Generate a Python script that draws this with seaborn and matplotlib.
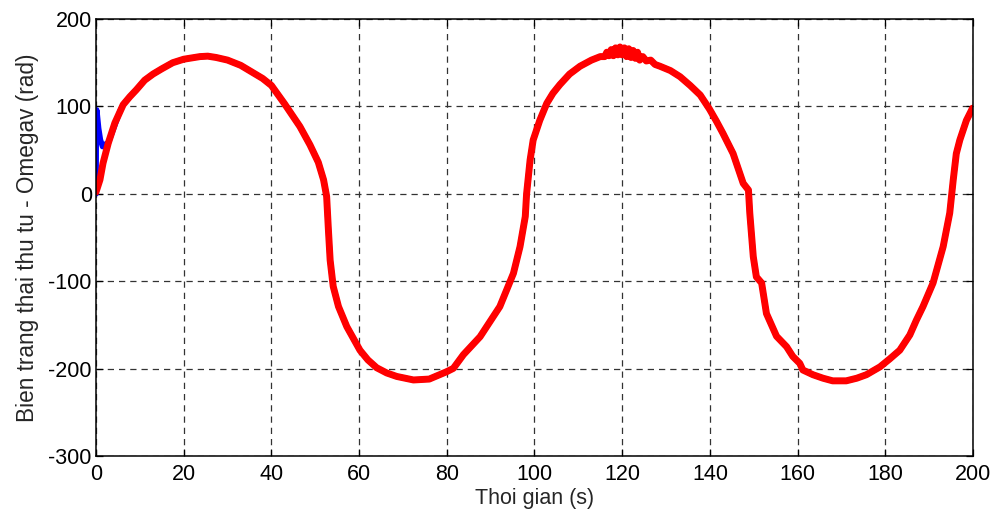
import numpy as np
import pandas as pd
import matplotlib
matplotlib.use("Agg")
import matplotlib.pyplot as plt
import seaborn as sns

# ---- data ----
red_t = [0, 0.9, 1.6, 2.8, 4.3, 6.2, 7.7, 9.2, 11.1, 13, 15, 17.5, 20, 23.7, 25.5, 27.4,
         30, 33, 36, 38, 40, 43, 46.5, 48.8, 50.7, 51.9, 52.6, 53.0, 53.4, 54.1, 55.3,
         57.2, 60.2, 62, 64, 66.3, 68.6, 72.4, 76, 80, 81.5, 83.8, 87.6, 92.1, 95.2, 96.7,
         97.9, 98.2, 99, 99.7, 101.2, 102.8, 104.2, 105.8, 108, 110.4, 113, 115, 116, 116.5,
         117, 117.5, 118, 118.5, 119, 119.5, 120, 120.5, 121, 121.5, 122, 122.5, 123,
         123.5, 124, 124.7, 125.5, 126.5, 127.5, 128.6, 131, 133.2, 135.5, 137.8, 139.9,
         141.5, 143, 145.3, 147.6, 148.8, 149.1, 149.9, 150.6, 151.8, 152.9, 155.2, 157.5,
         158.9, 160.5, 161.2, 163.5, 165.8, 168, 171.1, 173.5, 175.7, 178.8, 181, 183.3,
         185.6, 187.1, 188.6, 190.9, 193.2, 194.7, 195.5, 196.2, 197, 198.5, 199.9]
red_v = [2, 16, 35, 58, 81, 102, 111, 119, 130, 137, 143, 150, 154, 157, 157.5, 156,
         153, 147, 138, 132, 124, 103, 77, 56, 36, 16, -3, -41, -76, -106, -129,
         -152, -179, -190, -199, -205, -209, -213, -212, -203.5, -199.7, -184, -163.5, -129,
         -91, -60.5,
         -26, 0, 38.7, 61.5, 84, 103.5, 115, 125, 137, 146, 153, 157, 157, 162, 158, 165,
         158, 167, 159, 168, 159, 167, 157, 166, 156, 164, 155,
         162, 153, 157, 152, 153, 148, 146, 141, 134, 124, 113, 97,
         83, 69, 46, 12, 4.3, -22, -72, -95, -102, -137, -163, -175,
         -186, -194, -201.6, -207, -211, -214, -214, -211, -207, -198, -189, -179,
         -161.5, -144.5, -129, -102, -60.5, -22, 16, 46, 61.5, 84, 98]

blue_start_t = [0, 0.05, 0.15, 0.3, 0.6, 1.0, 1.5, 2.2, 2.8, 3.9, 5.5]
blue_start_v = [0, 60, 96, 90, 75, 62, 54, 57, 58, 73, 95]

x_ticks = [0, 20, 40, 60, 80, 100, 120, 140, 160, 180, 200]
y_ticks = [-300, -200, -100, 0, 100, 200]

# build series tables
red_df = pd.DataFrame({"t": red_t, "v": red_v})
blue_df = pd.concat([
    pd.DataFrame({"t": blue_start_t, "v": blue_start_v}),
    red_df[red_df["t"] > 6]
], ignore_index=True)

sns.set_style("white")
plt.rcParams["font.family"] = ["Liberation Sans", "DejaVu Sans"]

fig = plt.figure(figsize=(10.01, 5.24), dpi=100)
ax = fig.add_axes([0.0959, 0.1298, 0.8761, 0.8339])

sns.lineplot(data=blue_df, x="t", y="v", sort=False, color="#0000ff",
             linewidth=4.0, ax=ax, estimator=None)
line = sns.lineplot(data=red_df, x="t", y="v", sort=False, color="#ff0000",
                    linewidth=5.0, ax=ax, estimator=None)
for ln in ax.get_lines():
    ln.set_solid_joinstyle("round")
    ln.set_solid_capstyle("round")

ax.set_xlim(0, 200)
ax.set_ylim(-300, 200)
ax.set_xticks(x_ticks)
ax.set_yticks(y_ticks)
ax.set_xticklabels([str(v) for v in x_ticks])
ax.set_yticklabels([str(v) for v in y_ticks])

ax.grid(True, color="0.2", linestyle=(0, (5, 4)), linewidth=0.9)
ax.set_axisbelow(True)
for s in ax.spines.values():
    s.set_color("black")
    s.set_linewidth(1.1)
    s.set_visible(True)

ax.tick_params(axis="both", which="both", direction="in", length=5, width=0.9,
               top=True, right=True, bottom=True, left=True,
               labelsize=15.5, colors="black")
ax.tick_params(axis="x", pad=6)
ax.tick_params(axis="y", pad=3)

ax.set_xlabel("Thoi gian (s)", fontsize=15.5, labelpad=2)
ax.set_ylabel("Bien trang thai thu tu - Omegav (rad)", fontsize=16.3, labelpad=7)

fig.savefig("out.png", dpi=100)
